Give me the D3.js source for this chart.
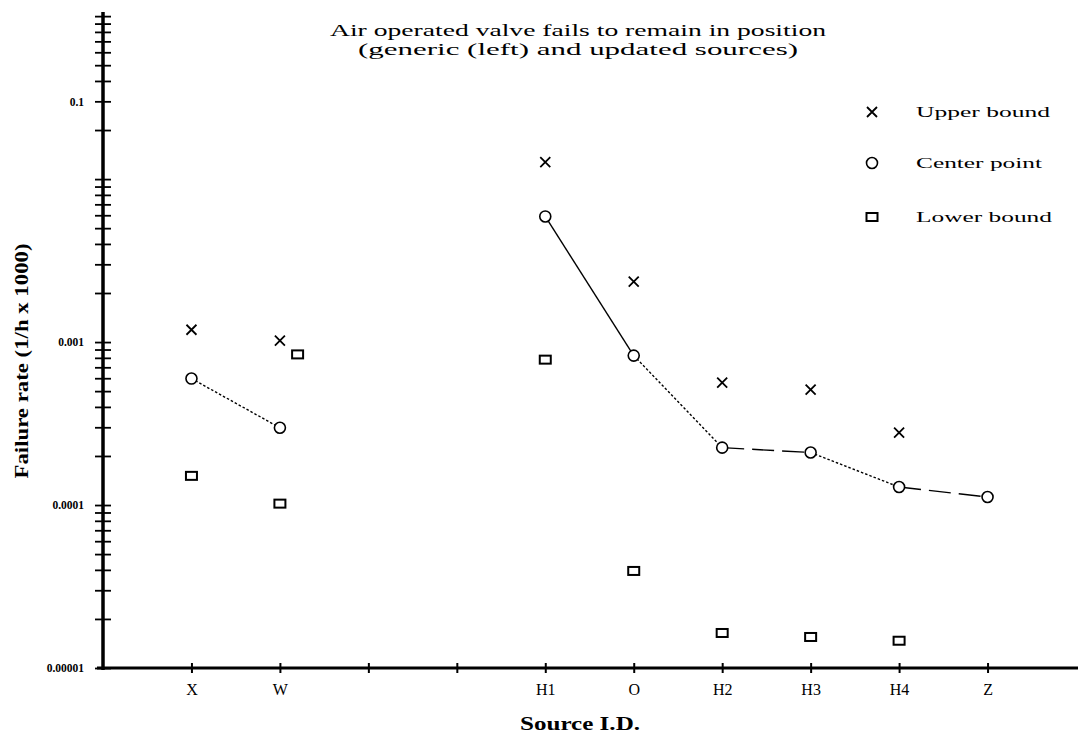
<!DOCTYPE html>
<html><head><meta charset="utf-8">
<script src="https://cdn.jsdelivr.net/npm/d3@7"></script>
<style>
body{margin:0;background:#fff}
svg{display:block}
text{font-family:"Liberation Serif","Times New Roman",serif;fill:#000}
</style>
</head><body>
<svg id="c" width="1080" height="737"></svg>
<script>
// ---- data ----
const categories = ["X", "W", "", "", "H1", "O", "H2", "H3", "H4", "Z"];
const upperBound = [1.19e-3, 1.02e-3, null, null, 1.27e-2, 2.35e-3, 5.64e-4, 5.1e-4, 2.78e-4, null];
const centerPoint = [5.97e-4, 2.98e-4, null, null, 5.9e-3, 8.26e-4, 2.25e-4, 2.1e-4, 1.29e-4, 1.12e-4];
const lowerBound = [1.51e-4, 1.02e-4, null, null, 7.8e-4, 3.94e-5, 1.64e-5, 1.55e-5, 1.47e-5, null];
const extraLowerPos = [2.2];
const extraLowerVal = [8.4e-4];
const yTickValues = [0.03, 1e-3, 1e-4, 1e-5];
const yTickLabels = ["0.1", "0.001", "0.0001", "0.00001"];
const legendLabels = ["Upper bound", "Center point", "Lower bound"];
const titleLines = ["Air operated valve fails to remain in position", "(generic (left) and updated sources)"];
const xTitle = "Source I.D.";
const yTitle = "Failure rate (1/h x 1000)";

// ---- layout ----
const svg = d3.select("#c");
const x = d3.scaleLinear().domain([0, 11]).range([103, 1076]);
const y = d3.scaleLog().domain([1e-5, 0.106]).range([668, 12]);
const pos = categories.map((c, i) => i + 1);

// segment styles (by start index)
const segDash = {0: "2.5,2", 4: null, 5: "2.5,2", 6: "22,8", 7: "2.5,2", 8: "22,8"};

// title
const tl = svg.append("g");
const tWidths = [496, 440];
titleLines.forEach((t, i) => {
  tl.append("text").attr("x", 578).attr("y", 36 + i * 19)
    .attr("text-anchor", "middle").attr("font-size", 17)
    .attr("textLength", tWidths[i]).attr("lengthAdjust", "spacingAndGlyphs")
    .text(t);
});

// y axis minor ticks
const minor = [];
for (let e = -5; e <= -1; e++) for (let k = 1; k <= 9; k++) {
  const v = k * Math.pow(10, e);
  if (v <= y.domain()[1] * 1.0001) minor.push(v);
}
const ya = svg.append("g").attr("transform", `translate(${x(0)},0)`)
  .call(d3.axisLeft(y).tickValues(minor).tickSize(8).tickFormat(""));
ya.select(".domain").remove();
ya.selectAll(".tick line").attr("x2", 8).attr("x1", -8).attr("stroke", "#000").attr("stroke-width", 1.8);
svg.append("line").attr("x1", x(0)).attr("x2", x(0)).attr("y1", y.range()[1]).attr("y2", 670)
  .attr("stroke", "#000").attr("stroke-width", 3.5);

// y tick labels
const yl = svg.append("g").attr("transform", `translate(${x(0) - 19},0)`)
  .call(d3.axisLeft(y).tickValues(yTickValues).tickSize(0).tickPadding(0)
    .tickFormat((d, i) => yTickLabels[i]));
yl.select(".domain").remove();
yl.selectAll("text").attr("font-size", 11.5).attr("font-family", "Liberation Serif")
  .attr("font-weight", "bold").attr("fill", "#000");

// x axis
svg.append("line").attr("x1", 97).attr("x2", 1078).attr("y1", 668).attr("y2", 668)
  .attr("stroke", "#000").attr("stroke-width", 3);
const xa = svg.append("g").attr("transform", "translate(0,668)")
  .call(d3.axisBottom(x).tickValues(pos).tickSize(5).tickPadding(11)
    .tickFormat((d, i) => categories[i]));
xa.select(".domain").remove();
xa.selectAll(".tick line").attr("y1", -5).attr("y2", 5).attr("stroke", "#000").attr("stroke-width", 2);
xa.selectAll("text").attr("font-size", 16).attr("font-family", "Liberation Serif").attr("fill", "#000");

// axis titles
svg.append("text").attr("x", 580).attr("y", 730).attr("text-anchor", "middle")
  .attr("font-size", 18).attr("font-weight", "bold")
  .attr("textLength", 120).attr("lengthAdjust", "spacingAndGlyphs").text(xTitle);
svg.append("text").attr("transform", "translate(28,361) rotate(-90)").attr("text-anchor", "middle")
  .attr("font-size", 18).attr("font-weight", "bold")
  .attr("textLength", 235).attr("lengthAdjust", "spacingAndGlyphs").text(yTitle);

// center lines
const lines = svg.append("g");
for (let i = 0; i < centerPoint.length - 1; i++) {
  if (centerPoint[i] == null || centerPoint[i + 1] == null) continue;
  const l = lines.append("line")
    .attr("x1", x(pos[i])).attr("y1", y(centerPoint[i]))
    .attr("x2", x(pos[i + 1])).attr("y2", y(centerPoint[i + 1]))
    .attr("stroke", "#000").attr("stroke-width", 1.4);
  if (segDash[i]) l.attr("stroke-dasharray", segDash[i]);
}

// markers
function cross(g, cx, cy) {
  const s = 5;
  g.append("path").attr("d", `M${cx - s},${cy - s}L${cx + s},${cy + s}M${cx - s},${cy + s}L${cx + s},${cy - s}`)
    .attr("stroke", "#000").attr("stroke-width", 1.8).attr("fill", "none");
}
function circ(g, cx, cy) {
  g.append("circle").attr("cx", cx).attr("cy", cy).attr("r", 5.5)
    .attr("fill", "#fff").attr("stroke", "#000").attr("stroke-width", 1.6);
}
function sq(g, cx, cy) {
  g.append("rect").attr("x", cx - 5.5).attr("y", cy - 4).attr("width", 11).attr("height", 8)
    .attr("fill", "#fff").attr("stroke", "#000").attr("stroke-width", 2);
}
const mk = svg.append("g");
upperBound.forEach((v, i) => { if (v != null) cross(mk, x(pos[i]), y(v)); });
centerPoint.forEach((v, i) => { if (v != null) circ(mk, x(pos[i]), y(v)); });
lowerBound.forEach((v, i) => { if (v != null) sq(mk, x(pos[i]), y(v)); });
extraLowerPos.forEach((p, i) => sq(mk, x(p), y(extraLowerVal[i])));

// legend
const lg = svg.append("g");
const rowsY = [112, 163, 217];
const lw = [134, 126, 136];
const drawers = [cross, circ, sq];
legendLabels.forEach((t, i) => {
  drawers[i](lg, 872, rowsY[i]);
  lg.append("text").attr("x", 916).attr("y", rowsY[i] + 5).attr("font-size", 15)
    .attr("textLength", lw[i]).attr("lengthAdjust", "spacingAndGlyphs").text(t);
});
</script>
</body></html>
